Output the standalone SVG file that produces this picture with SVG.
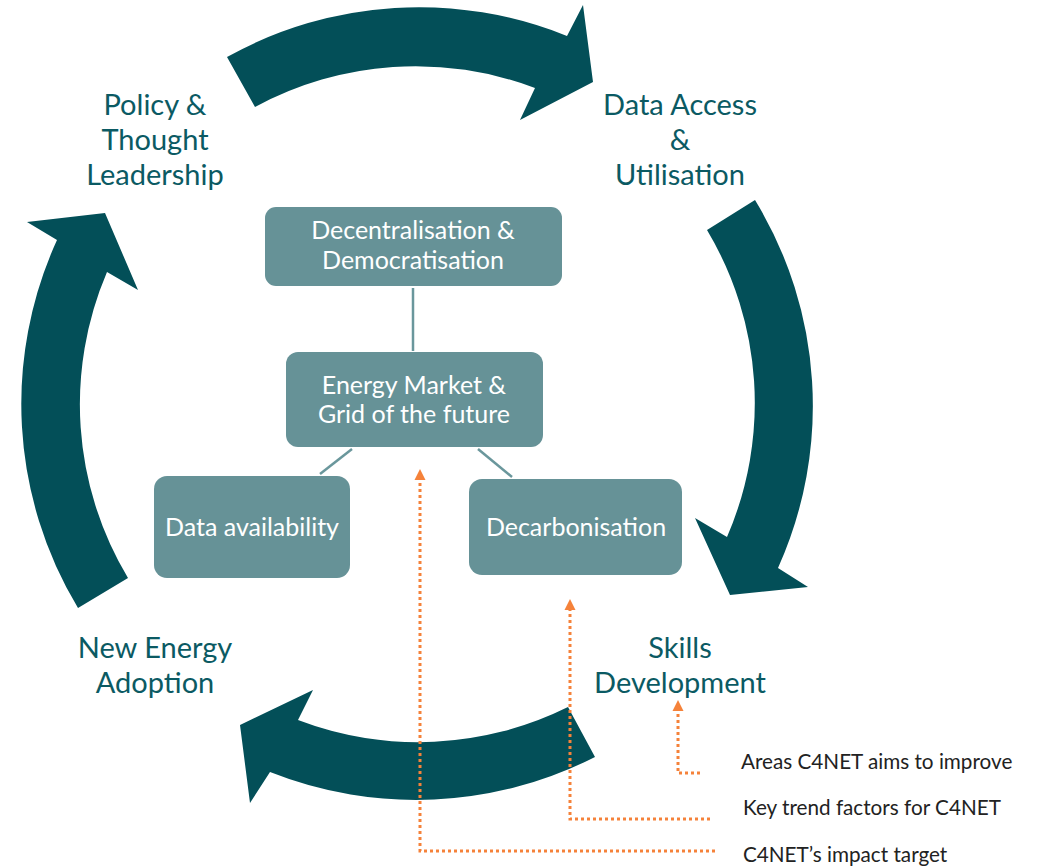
<svg xmlns="http://www.w3.org/2000/svg" width="1038" height="867" viewBox="0 0 1038 867">
  <style>
    .cycle { fill: #034F58; }
    .stage { font-family: Lato, "Open Sans", sans-serif; font-size: 29px; fill: #0B5A63; text-anchor: middle; }
    .box { fill: #669297; }
    .boxtext { font-family: Lato, "Open Sans", sans-serif; font-size: 25px; fill: #FFFFFF; text-anchor: middle; }
    .link { stroke: #6A979C; stroke-width: 2.5; fill: none; }
    .pointer { stroke: #F5823A; stroke-width: 3; stroke-dasharray: 3 3; fill: none; }
    .legend { font-family: Lato, "Open Sans", sans-serif; font-size: 20.7px; fill: #222222; }
  </style>
  <defs>
    <marker id="orangeHead" viewBox="0 0 10 10" refX="0" refY="5" markerUnits="userSpaceOnUse" markerWidth="11" markerHeight="13" orient="auto">
      <path d="M0,0 L10,5 L0,10 Z" fill="#F5823A"/>
    </marker>
  </defs>
  <rect width="1038" height="867" fill="#FFFFFF"/>

  <!-- circular cycle arrows (centre 417,403; radii 337/395) -->
  <g id="cycle-arrows">
    <path id="arrow-top" class="cycle" d="M227,57 A395,395 0 0 1 567,36 L583,5 L593,82 L520,120 L535,88 A337,337 0 0 0 255,107 Z"/>
    <path id="arrow-right" class="cycle" d="M755,200 A395,395 0 0 1 778,568 L808,587 L730,595 L695,518 L727,537 A337,337 0 0 0 707,230 Z"/>
    <path id="arrow-bottom" class="cycle" d="M595,757 A395,395 0 0 1 270,772 L250,803 L240,725 L313,690 L298,720 A337,337 0 0 0 568,707 Z"/>
    <path id="arrow-left" class="cycle" d="M78,608 A395,395 0 0 1 57,240 L27,222 L105,213 L138,290 L107,272 A337,337 0 0 0 128,578 Z"/>
  </g>

  <!-- stage labels around the cycle -->
  <g id="stage-policy">
    <text class="stage" x="155" y="115">Policy &amp;</text>
    <text class="stage" x="155" y="150">Thought</text>
    <text class="stage" x="155" y="185">Leadership</text>
  </g>
  <g id="stage-data-access">
    <text class="stage" x="680" y="115">Data Access</text>
    <text class="stage" x="680" y="150">&amp;</text>
    <text class="stage" x="680" y="185">Utilisation</text>
  </g>
  <g id="stage-skills">
    <text class="stage" x="680" y="658">Skills</text>
    <text class="stage" x="680" y="693">Development</text>
  </g>
  <g id="stage-new-energy">
    <text class="stage" x="155" y="658">New Energy</text>
    <text class="stage" x="155" y="693">Adoption</text>
  </g>

  <!-- tree links between the centre boxes -->
  <g id="links">
    <line class="link" x1="413" y1="288" x2="413" y2="351"/>
    <line class="link" x1="352" y1="449" x2="320" y2="474"/>
    <line class="link" x1="478" y1="449" x2="512" y2="477"/>
  </g>

  <g id="node-decentralisation">
    <rect class="box" x="265" y="207" width="297" height="79" rx="11"/>
    <text class="boxtext" x="413" y="239">Decentralisation &amp;</text>
    <text class="boxtext" x="413" y="269">Democratisation</text>
  </g>
  <g id="node-energy-market">
    <rect class="box" x="286" y="352" width="257" height="95" rx="12"/>
    <text class="boxtext" x="414" y="394">Energy Market &amp;</text>
    <text class="boxtext" x="414" y="423">Grid of the future</text>
  </g>
  <g id="node-data-availability">
    <rect class="box" x="154" y="476" width="196" height="102" rx="13"/>
    <text class="boxtext" x="252" y="536">Data availability</text>
  </g>
  <g id="node-decarbonisation">
    <rect class="box" x="469" y="479" width="213" height="96" rx="13"/>
    <text class="boxtext" x="576" y="536">Decarbonisation</text>
  </g>

  <!-- dotted legend pointers -->
  <g id="pointers">
    <path class="pointer" d="M715,851 H420 V480" marker-end="url(#orangeHead)"/>
    <path class="pointer" d="M710,819 H570 V610" marker-end="url(#orangeHead)"/>
    <path class="pointer" d="M700,773 H678 V711" marker-end="url(#orangeHead)"/>
  </g>

  <g id="legend">
    <text class="legend" x="741" y="769">Areas C4NET aims to improve</text>
    <text class="legend" x="743" y="815">Key trend factors for C4NET</text>
    <text class="legend" x="743" y="862">C4NET’s impact target</text>
  </g>
</svg>
